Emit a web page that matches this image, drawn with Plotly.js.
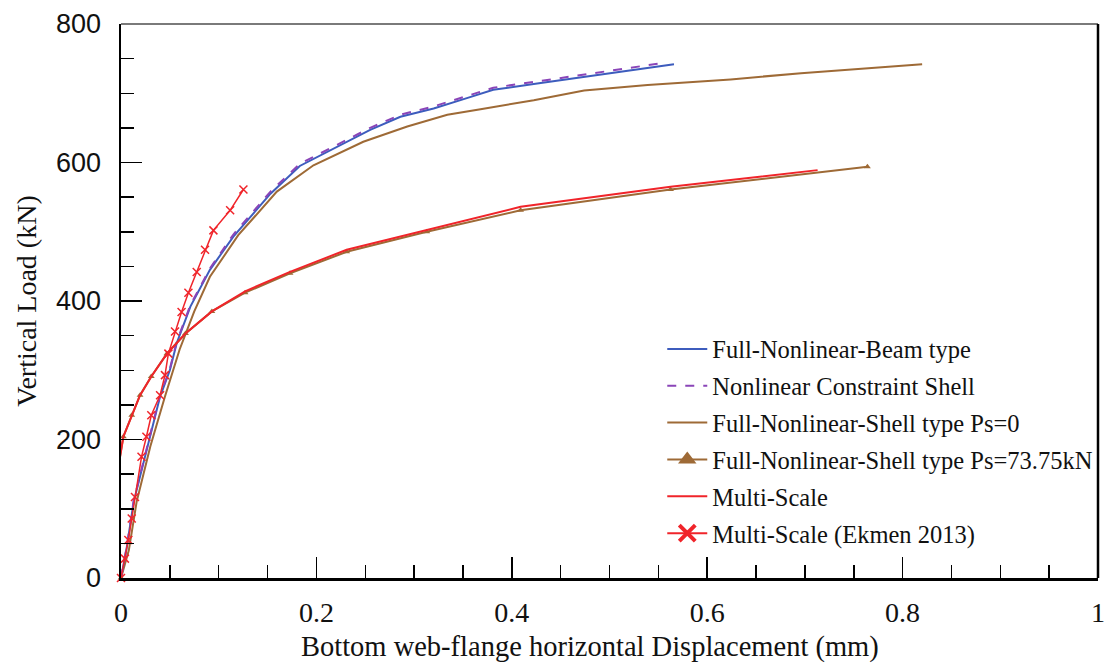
<!DOCTYPE html>
<html>
<head>
<meta charset="utf-8">
<script src="https://cdn.plot.ly/plotly-3.0.1.min.js"></script>
<style>html,body{margin:0;padding:0;background:#fff;}#chart{width:1107px;height:663px;}</style>
</head>
<body>
<div id="chart"></div>
<script>
// Full-Nonlinear-Beam type
const beamX = [0, 0.006, 0.013, 0.02, 0.03, 0.04, 0.05, 0.057, 0.071, 0.091, 0.115, 0.153, 0.183, 0.218, 0.255, 0.286, 0.32, 0.354, 0.381, 0.426, 0.484, 0.566];
const beamY = [0, 45, 110, 150, 205, 262, 300, 339, 392, 445, 493, 555, 595, 620, 647, 666, 678, 693, 705, 714, 726, 742];
// Nonlinear Constraint Shell
const ncsX = [0, 0.006, 0.013, 0.02, 0.03, 0.04, 0.05, 0.057, 0.071, 0.091, 0.115, 0.153, 0.183, 0.218, 0.255, 0.286, 0.32, 0.354, 0.381, 0.426, 0.484, 0.556];
const ncsY = [0, 46, 112, 152, 207, 264, 302, 341, 394, 447, 496, 558, 598, 623, 650, 669, 681, 696, 708, 717, 729, 744];
// Full-Nonlinear-Shell type Ps=0
const shell0X = [0, 0.008, 0.016, 0.03, 0.045, 0.06, 0.075, 0.091, 0.12, 0.1595, 0.197, 0.248, 0.293, 0.334, 0.368, 0.4225, 0.474, 0.539, 0.624, 0.696, 0.82];
const shell0Y = [0, 40, 110, 190, 262, 330, 385, 435, 495, 558, 596, 630, 652, 669, 677, 690, 704, 712, 720, 729, 742];
// Full-Nonlinear-Shell type Ps=73.75kN
const shellPX = [0, -0.003, -0.0045, -0.005, -0.0045, -0.003, -0.001, 0.0024, 0.011, 0.0195, 0.031, 0.047, 0.066, 0.093, 0.127, 0.173, 0.231, 0.313, 0.409, 0.5625, 0.764];
const shellPY = [0, 24, 55, 84, 115, 144, 175, 204, 235, 264, 291, 324, 353, 385, 412, 440, 471, 500, 531, 561, 594];
// Multi-Scale
const msX = [0, -0.003, -0.0045, -0.005, -0.0045, -0.003, -0.001, 0.0024, 0.011, 0.0195, 0.031, 0.047, 0.066, 0.093, 0.127, 0.173, 0.231, 0.313, 0.409, 0.5625, 0.713];
const msY = [0, 24, 55, 84, 115, 144, 175, 204, 235, 264, 291, 324, 353, 385, 414, 442, 474, 503, 536, 565, 589];
// Multi-Scale (Ekmen 2013)
const ekX = [0, 0.004, 0.0075, 0.011, 0.0143, 0.021, 0.026, 0.031, 0.04, 0.045, 0.0485, 0.0553, 0.062, 0.069, 0.0775, 0.086, 0.0946, 0.1117, 0.1253];
const ekY = [0, 28, 55, 86, 117, 175, 204, 235, 264, 293, 324, 356, 384, 412, 442, 474, 502, 531, 561];

const names = ["Full-Nonlinear-Beam type", "Nonlinear Constraint Shell", "Full-Nonlinear-Shell type Ps=0", "Full-Nonlinear-Shell type Ps=73.75kN", "Multi-Scale", "Multi-Scale (Ekmen 2013)"];
const xTicks = [0, 0.2, 0.4, 0.6, 0.8, 1];
const xTickText = ["0", "0.2", "0.4", "0.6", "0.8", "1"];
const yTicks = [0, 200, 400, 600, 800];
const xTitle = "Bottom web-flange horizontal Displacement (mm)";
const yTitle = "Vertical Load (kN)";

const BLUE = "#3d5cbd", PURPLE = "#8a45b8", BROWN = "#9e6a36", RED = "#f0242a";
const SERIF = "Liberation Serif, Times New Roman, serif";

const traces = [
  {x: shell0X, y: shell0Y, mode: "lines", line: {color: BROWN, width: 2}, showlegend: false},
  {x: beamX, y: beamY, mode: "lines", line: {color: BLUE, width: 2}, showlegend: false},
  {x: ncsX, y: ncsY, mode: "lines", line: {color: PURPLE, width: 2, dash: "dash"}, showlegend: false},
  {x: shellPX, y: shellPY, mode: "lines+markers", line: {color: BROWN, width: 2}, marker: {symbol: "triangle-up", size: 6, color: BROWN}, showlegend: false, cliponaxis: false},
  {x: msX, y: msY, mode: "lines", line: {color: RED, width: 2}, showlegend: false},
  {x: ekX, y: ekY, mode: "lines+markers", line: {color: RED, width: 1.5}, marker: {symbol: "x-thin", size: 8, line: {color: RED, width: 1.5}}, showlegend: false, cliponaxis: false},
  // legend entries
  {x: [null], y: [null], name: names[0], legendgroup: "a", mode: "lines", line: {color: BLUE, width: 2}},
  {x: [null], y: [null], name: names[1], legendgroup: "b", mode: "lines", line: {color: PURPLE, width: 2, dash: "dash"}},
  {x: [null], y: [null], name: names[2], legendgroup: "c", mode: "lines", line: {color: BROWN, width: 2}},
  {x: [null], y: [null], name: names[3], legendgroup: "d", mode: "lines+markers", line: {color: BROWN, width: 2}, marker: {symbol: "triangle-up", size: 16, color: BROWN}},
  {x: [null], y: [null], name: names[4], legendgroup: "e", mode: "lines", line: {color: RED, width: 2}},
  {x: [null], y: [null], name: names[5], legendgroup: "f", mode: "lines+markers", line: {color: RED, width: 2}, marker: {symbol: "x-thin", size: 16, line: {color: RED, width: 4}}}
];

const layout = {
  width: 1107, height: 663,
  margin: {l: 121, r: 9, t: 24, b: 85, pad: 0},
  paper_bgcolor: "#fff", plot_bgcolor: "#fff",
  showlegend: true,
  legend: {x: 0.554, y: 0.454, xanchor: "left", yanchor: "top", bgcolor: "rgba(0,0,0,0)", borderwidth: 0,
    font: {family: SERIF, size: 24.5, color: "#111"}, tracegroupgap: 2, itemwidth: 40},
  xaxis: {
    range: [0, 1], tickvals: xTicks, ticktext: xTickText, ticks: "inside", ticklen: 21, tickwidth: 1.5, tickcolor: "#000",
    showline: true, linecolor: "#000", linewidth: 2.5, showgrid: false, zeroline: false,
    tickfont: {family: SERIF, size: 28, color: "#111"}, ticklabelstandoff: 8,
    minor: {dtick: 0.05, ticks: "inside", ticklen: 13, tickwidth: 1.5, tickcolor: "#000", showgrid: false}
  },
  yaxis: {
    range: [0, 800], tickvals: yTicks, ticks: "inside", ticklen: 21, tickwidth: 1.5, tickcolor: "#000",
    showline: true, linecolor: "#000", linewidth: 2.5, showgrid: false, zeroline: false,
    tickfont: {family: "Liberation Sans, Arial, sans-serif", size: 27, color: "#111"}, ticklabelstandoff: 12,
    minor: {dtick: 50, ticks: "inside", ticklen: 13, tickwidth: 1.5, tickcolor: "#000", showgrid: false},
    title: {text: yTitle, font: {family: SERIF, size: 28, color: "#111"}, standoff: 11}
  },
  annotations: [
    {text: xTitle, xref: "paper", yref: "paper", x: 0.4805, y: -0.092, xanchor: "center", yanchor: "top", showarrow: false,
     font: {family: SERIF, size: 28.5, color: "#111"}}
  ],
  shapes: [
    {type: "line", xref: "paper", yref: "paper", x0: 0, x1: 1, y0: 1, y1: 1, layer: "above", line: {color: "#7a7a7a", width: 2}},
    {type: "line", xref: "paper", yref: "paper", x0: 1, x1: 1, y0: 0, y1: 1, layer: "above", line: {color: "#000", width: 2.5}}
  ]
};

Plotly.newPlot("chart", traces, layout, {staticPlot: true, displayModeBar: false});
</script>
</body>
</html>
